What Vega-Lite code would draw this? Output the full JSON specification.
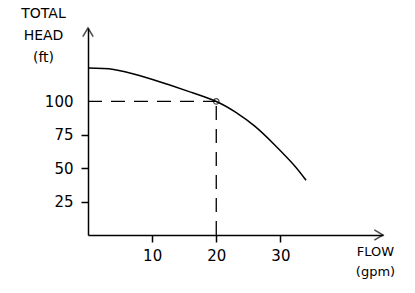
{
  "$schema": "https://vega.github.io/schema/vega-lite/v6.json",
  "autosize": {"type": "none"},
  "width": 295,
  "height": 207,
  "padding": {"left": 88, "top": 28, "right": 32, "bottom": 58},
  "background": "white",
  "config": {
    "view": {"stroke": null},
    "font": "DejaVu Sans",
    "axis": {"grid": false, "domainColor": "black", "domainWidth": 1.5, "tickColor": "black", "tickWidth": 1.5, "labelColor": "black", "titleColor": "black", "labelFont": "DejaVu Sans", "titleFont": "DejaVu Sans", "labelFontSize": 15, "titleFontSize": 14, "titleFontWeight": "normal"}
  },
  "datasets": {
    "curve": [
      {"flow": 0, "head": 125},
      {"flow": 4, "head": 124},
      {"flow": 8, "head": 119.5},
      {"flow": 12, "head": 113.5},
      {"flow": 16, "head": 107},
      {"flow": 20, "head": 100},
      {"flow": 23, "head": 92},
      {"flow": 26, "head": 81.5},
      {"flow": 29, "head": 68},
      {"flow": 32, "head": 53},
      {"flow": 34, "head": 41}
    ],
    "op": [{"flow": 20, "head": 100, "flow0": 0, "head0": 0}],
    "arrows": [
      {"flow": 46, "head": 0, "dir": "x"},
      {"flow": 0, "head": 155, "dir": "y"}
    ]
  },
  "layer": [
    {
      "data": {"name": "op"},
      "mark": {"type": "rule", "color": "black", "strokeWidth": 1.3, "strokeDash": [14, 9]},
      "encoding": {
        "x": {"field": "flow0", "type": "quantitative", "scale": {"domain": [0, 46], "nice": false},
          "axis": {"values": [10, 20, 30], "title": ["FLOW", "(gpm)"], "titleX": 287, "titleY": 10, "titleBaseline": "top", "titleAlign": "center", "titleAnchor": "start", "titleLineHeight": 20, "tickSize": 7, "labelPadding": 6, "titleFontSize": 13}},
        "x2": {"field": "flow"},
        "y": {"field": "head", "type": "quantitative", "scale": {"domain": [0, 155], "nice": false},
          "axis": {"values": [25, 50, 75, 100], "title": ["TOTAL", "HEAD", "(ft)"], "titleAngle": 0, "titleX": -45, "titleY": -22, "titleBaseline": "top", "titleAlign": "center", "titleAnchor": "start", "titleLineHeight": 22, "tickSize": 7, "labelPadding": 8, "tickColor": {"condition": {"test": "datum.value == 100", "value": "transparent"}, "value": "black"}}}
      }
    },
    {
      "data": {"name": "op"},
      "mark": {"type": "rule", "color": "black", "strokeWidth": 1.3, "strokeDash": [14, 9]},
      "encoding": {
        "x": {"field": "flow", "type": "quantitative"},
        "y": {"field": "head0", "type": "quantitative"},
        "y2": {"field": "head"}
      }
    },
    {
      "data": {"name": "curve"},
      "mark": {"type": "line", "color": "black", "strokeWidth": 1.5, "interpolate": "natural"},
      "encoding": {
        "x": {"field": "flow", "type": "quantitative"},
        "y": {"field": "head", "type": "quantitative"}
      }
    },
    {
      "data": {"name": "op"},
      "mark": {"type": "point", "color": "black", "filled": false, "size": 30, "strokeWidth": 1.2},
      "encoding": {
        "x": {"field": "flow", "type": "quantitative"},
        "y": {"field": "head", "type": "quantitative"}
      }
    },
    {
      "data": {"name": "arrows"},
      "mark": {"type": "point", "color": "black", "filled": false, "size": 300, "strokeWidth": 1.5},
      "encoding": {
        "x": {"field": "flow", "type": "quantitative"},
        "y": {"field": "head", "type": "quantitative"},
        "shape": {"field": "dir", "type": "nominal", "scale": {"domain": ["x", "y"], "range": ["M-1,-0.6L0,0L-1,0.6", "M-0.6,1L0,0L0.6,1"]}, "legend": null}
      }
    }
  ]
}
